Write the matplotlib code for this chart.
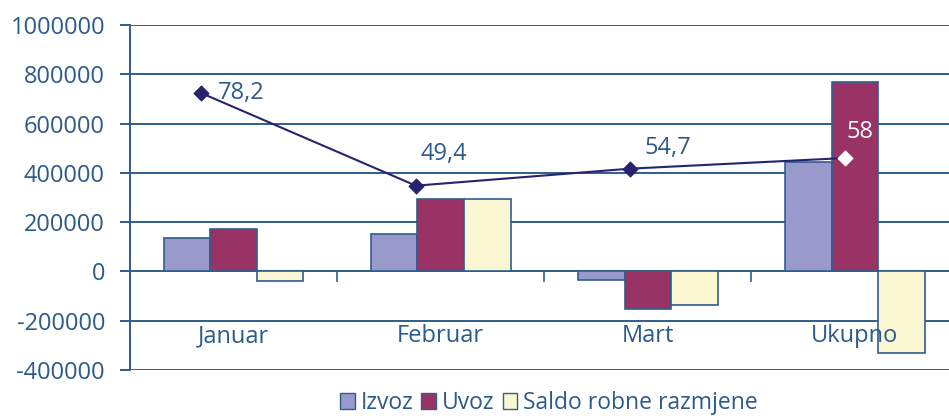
import matplotlib
matplotlib.use('Agg')
import matplotlib.pyplot as plt
from matplotlib.patches import Patch
import numpy as np

plt.rcParams['font.family'] = ['Open Sans', 'DejaVu Sans']

# data
categories = ['Januar', 'Februar', 'Mart', 'Ukupno']
izvoz = [135000, 150000, -35000, 445000]
uvoz = [173000, 293000, -151000, 770000]
saldo = [-37000, 293000, -135000, -329000]
pokrivenost = [78.2, 49.4, 54.7, 58.0]
pokrivenost_labels = ['78,2', '49,4', '54,7', '58']

BLUE = '#2E5E8E'
TXT = '#2B5A8C'
NAVY = '#26246E'
c_izvoz = '#9999CC'
c_uvoz = '#993366'
c_saldo = '#FAF7D2'

fig = plt.figure(figsize=(9.49, 4.18), dpi=100)
ax = fig.add_axes([130 / 949, 1 - 370 / 418, 828.5 / 949, 345 / 418])

x = np.arange(len(categories))
w = 0.225
ax.bar(x - w, izvoz, w, color=c_izvoz, edgecolor=BLUE, linewidth=1.2, zorder=3)
ax.bar(x, uvoz, w, color=c_uvoz, edgecolor=BLUE, linewidth=1.2, zorder=3)
ax.bar(x + w, saldo, w, color=c_saldo, edgecolor=BLUE, linewidth=1.2, zorder=3)

ax.set_xlim(-0.5, 3.5)
ax.set_ylim(-400000, 1000000)
ax.set_yticks(np.arange(-400000, 1000001, 200000))
ax.set_yticklabels([str(v) for v in range(-400000, 1000001, 200000)])
ax.grid(axis='y', color=BLUE, linewidth=1.4, zorder=1)
ax.set_axisbelow(True)
for s in ['top', 'right', 'bottom']:
    ax.spines[s].set_visible(False)
ax.spines['left'].set_color(BLUE)
ax.spines['left'].set_linewidth(1.4)
ax.tick_params(axis='y', colors=BLUE, labelcolor=TXT, length=7, width=1.4,
               labelsize=17, pad=11)
ax.set_xticks([])

# category boundary ticks on the zero line
for b in [0.5, 1.5, 2.5]:
    ax.plot([b, b], [0, -40000], color=BLUE, linewidth=1.2, zorder=4)

for i, c in enumerate(categories):
    ax.text(i, -264000, c, ha='center', va='center', fontsize=17, color=TXT, zorder=5)

# coverage line on hidden secondary axes
ax2 = fig.add_axes(ax.get_position(), frameon=False)
ax2.set_xlim(-0.333, 3.530)
ax2.set_ylim(-7.97, 99.41)
ax2.set_xticks([])
ax2.set_yticks([])
ax2.plot(x, pokrivenost, color=NAVY, linewidth=1.5, zorder=3)
ax2.scatter(x[:3], pokrivenost[:3], marker='D', s=55, color=NAVY, zorder=4)
ax2.scatter(x[3:], pokrivenost[3:], marker='D', s=55, color='white', zorder=4)

offsets = [(12, 0), (3, 23), (10.5, 15), (1.5, 19)]
label_colors = [TXT, TXT, TXT, 'white']
for i, (v, t) in enumerate(zip(pokrivenost, pokrivenost_labels)):
    ax2.annotate(t, (x[i], v), xytext=offsets[i], textcoords='offset points',
                 ha='left', va='center', fontsize=17, color=label_colors[i], zorder=6)

handles = [Patch(facecolor=c_izvoz, edgecolor=BLUE, label='Izvoz'),
           Patch(facecolor=c_uvoz, edgecolor=BLUE, label='Uvoz'),
           Patch(facecolor=c_saldo, edgecolor=BLUE, label='Saldo robne razmjene')]
leg = fig.legend(handles=handles, loc='center', bbox_to_anchor=(549 / 949, 1 - 403 / 418),
                 ncol=3, frameon=False, fontsize=16.5, handlelength=0.65, handleheight=0.65,
                 handletextpad=0.25, columnspacing=0.35, borderpad=0)
for t in leg.get_texts():
    t.set_color(TXT)

fig.savefig('out.png', dpi=100)
